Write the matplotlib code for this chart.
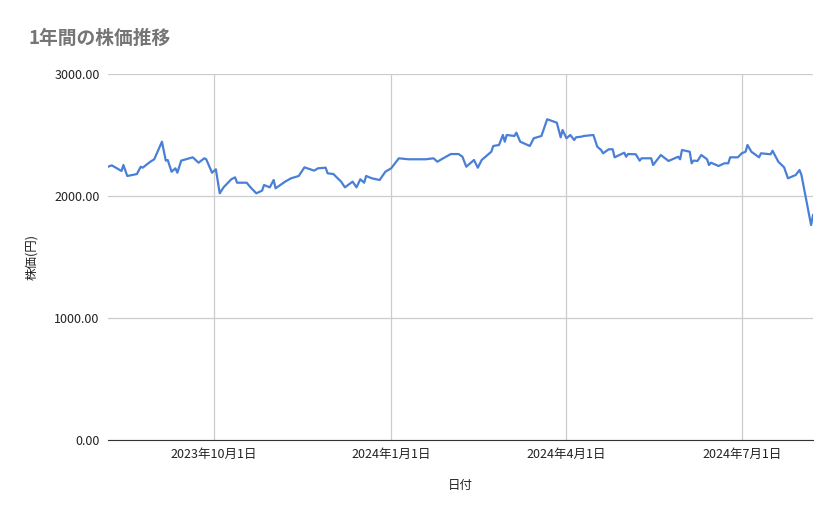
import matplotlib
matplotlib.use("Agg")
import matplotlib.pyplot as plt
import datetime as dt

plt.rcParams['font.family'] = ['Noto Sans CJK JP', 'DejaVu Sans']

start_date = dt.date(2023, 8, 7)
day_offsets = [0, 2, 7, 8, 10, 15, 17, 18, 22, 24, 28, 30, 31, 33, 35, 36, 38, 44, 47, 50, 51, 54, 56, 58, 60,
               64, 66, 67, 72, 74, 77, 80, 81, 84, 86, 87, 92, 95, 99, 102, 107, 109, 113, 114, 117, 121, 123,
               127, 129, 131, 133, 134, 137, 141, 144, 147, 151, 156, 165, 169, 171, 174, 178, 182,
               184, 186, 190, 192, 194, 199, 200, 203, 205, 206, 207, 211, 212, 214, 219, 221, 225, 228, 233,
               235, 236, 238, 240, 242, 243, 246, 247, 252, 254, 256, 257, 260, 262, 263, 268, 269, 270, 274,
               276, 277, 282, 283, 287, 291, 296, 297, 298, 302, 303, 304, 306, 308, 311, 312, 313, 317, 320,
               322, 323, 327, 329, 331, 332, 334, 338, 339, 344, 345, 348, 351, 353, 357, 359, 360, 365, 366]
prices = [2240, 2251, 2205, 2254, 2164, 2180, 2240, 2232, 2281, 2301, 2445, 2290, 2295, 2199, 2227, 2191, 2290,
          2317, 2273, 2309, 2301, 2191, 2219, 2022, 2071, 2137, 2153, 2109, 2109, 2071, 2022, 2044, 2090, 2071,
          2131, 2063, 2118, 2145, 2164, 2235, 2208, 2227, 2232, 2186, 2180, 2118, 2071, 2118, 2071, 2137, 2109,
          2164, 2145, 2131, 2199, 2227, 2309, 2301, 2301, 2309, 2281, 2309, 2344, 2344,
          2322, 2240, 2295, 2232, 2295, 2363, 2410, 2418, 2500, 2445, 2500, 2492, 2519, 2445, 2410, 2473, 2492,
          2629, 2601, 2481, 2541, 2473, 2500, 2459, 2481, 2487, 2492, 2500, 2404, 2377, 2350, 2383, 2383, 2317,
          2355, 2322, 2344, 2342, 2290, 2309, 2309, 2254, 2336, 2287, 2322, 2301, 2377, 2363, 2268, 2290, 2287,
          2336, 2301, 2254, 2273, 2246, 2268, 2268, 2317, 2317, 2350, 2363, 2418, 2363, 2317, 2350, 2342, 2371,
          2281, 2235, 2145, 2172, 2213, 2172, 1762, 1844]
tick_dates = [dt.date(2023, 10, 1), dt.date(2024, 1, 1), dt.date(2024, 4, 1), dt.date(2024, 7, 1)]
tick_labels = ["2023年10月1日", "2024年1月1日", "2024年4月1日", "2024年7月1日"]
y_ticks = [0, 1000, 2000, 3000]
y_labels = ["0.00", "1000.00", "2000.00", "3000.00"]

dates = [start_date + dt.timedelta(days=d) for d in day_offsets]

fig = plt.figure(figsize=(8.39, 5.19), dpi=100)
ax = fig.add_axes([108/839, 79/519, 705/839, 366/519])
ax.plot(dates, prices, color='#4a7fd6', lw=1.6, solid_joinstyle='round')
ax.set_xlim(start_date, start_date + dt.timedelta(days=366.5))
ax.set_ylim(0, 3000)
ax.set_xticks(tick_dates)
ax.set_xticklabels(tick_labels)
ax.set_yticks(y_ticks)
ax.set_yticklabels(y_labels)
ax.grid(True, color='#cccccc', lw=0.9)
ax.set_axisbelow(True)
for s in ['top', 'right', 'left']:
    ax.spines[s].set_visible(False)
ax.spines['bottom'].set_color('#333333')
ax.tick_params(length=0, labelsize=9, colors='#222222', pad=6)
ax.set_xlabel("日付", fontsize=9, labelpad=13, color='#222222')
ax.set_ylabel("株価(円)", fontsize=9, labelpad=12, color='#222222')
fig.text(28/839, 1 - 38/519, "1年間の株価推移", fontsize=13.5, color='#757575', va='center', fontweight='bold')
fig.savefig("out.png", dpi=100, facecolor='white')
